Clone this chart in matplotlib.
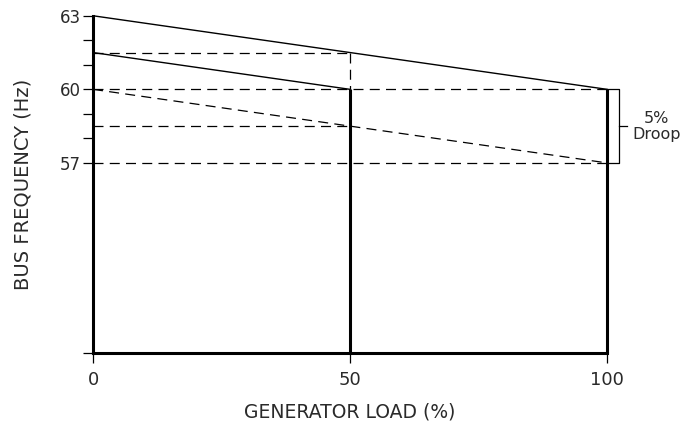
import matplotlib
matplotlib.use('Agg')
import matplotlib.pyplot as plt

# Governor droop curves (generator load % vs bus frequency Hz)
load_full = [0, 100]
load_half = [0, 50]
freq_high = [63, 60]      # upper droop line, solid
freq_mid = [61.5, 60]     # middle droop line, solid
freq_low = [60, 57]       # lower droop line, dashed

# dashed reference levels and how far they reach along the load axis
ref_levels = [61.5, 60, 58.5, 57]
ref_ends = [50, 100, 50, 100]

# thick load markers
load_marks = [50, 100]
load_marks_top = [60, 60]

y_min = 49.25
y_labeled = [63, 60, 57]
y_minor = [62, 61, 59, 58]
x_ticks = [0, 50, 100]

plt.rcParams['font.family'] = ['DejaVu Sans']
txt = '#2a2a2a'

fig = plt.figure(figsize=(6.84, 4.26), dpi=100)
ax = fig.add_axes([0.136, 0.1714, 0.7515, 0.7916])

dash = (8, 5)

# reference dashed lines
for lev, end in zip(ref_levels, ref_ends):
    ax.plot([0, end], [lev, lev], color='black', lw=0.9, dashes=dash, clip_on=False)
ax.plot([50, 50], [61.5, 60], color='black', lw=0.9, dashes=dash, clip_on=False)

# droop lines
ax.plot(load_full, freq_high, color='black', lw=1.0, clip_on=False)
ax.plot(load_half, freq_mid, color='black', lw=1.0, clip_on=False)
ax.plot(load_full, freq_low, color='black', lw=0.9, dashes=dash, clip_on=False)

# thick verticals at 50% and 100%
for x, top in zip(load_marks, load_marks_top):
    ax.plot([x, x], [y_min, top], color='black', lw=2.2, solid_capstyle='butt', clip_on=False)

# 5% droop bracket
bx = 102.3
ax.plot([100, bx, bx, 100], [60, 60, 57, 57], color='black', lw=0.9, clip_on=False)
ax.plot([bx, 103.8], [58.5, 58.5], color='black', lw=0.9, clip_on=False)
ax.text(109.7, 58.5, '5%\nDroop', ha='center', va='center', fontsize=11.5,
        color=txt, linespacing=1.1, clip_on=False)

ax.set_xlim(0, 100)
ax.set_ylim(y_min, 63)

for s in ['top', 'right']:
    ax.spines[s].set_visible(False)
ax.spines['left'].set_linewidth(2.2)
ax.spines['bottom'].set_linewidth(2.2)

ax.set_xticks(x_ticks)
ax.set_xticklabels([str(v) for v in x_ticks])
ax.set_yticks(y_labeled + [y_min])
ax.set_yticklabels([str(v) for v in y_labeled] + [''])
ax.set_yticks(y_minor, minor=True)
ax.tick_params(axis='y', which='both', direction='out', length=7.5, width=0.9,
               labelsize=12, colors='black', labelcolor=txt, pad=1)
ax.tick_params(axis='x', direction='out', length=7, width=0.9,
               labelsize=13, labelcolor=txt, pad=6)

ax.set_xlabel('GENERATOR LOAD (%)', fontsize=13.5, color=txt, labelpad=10)
ax.set_ylabel('BUS FREQUENCY (Hz)', fontsize=14, color=txt, labelpad=20)

fig.savefig('out.png', dpi=100)
